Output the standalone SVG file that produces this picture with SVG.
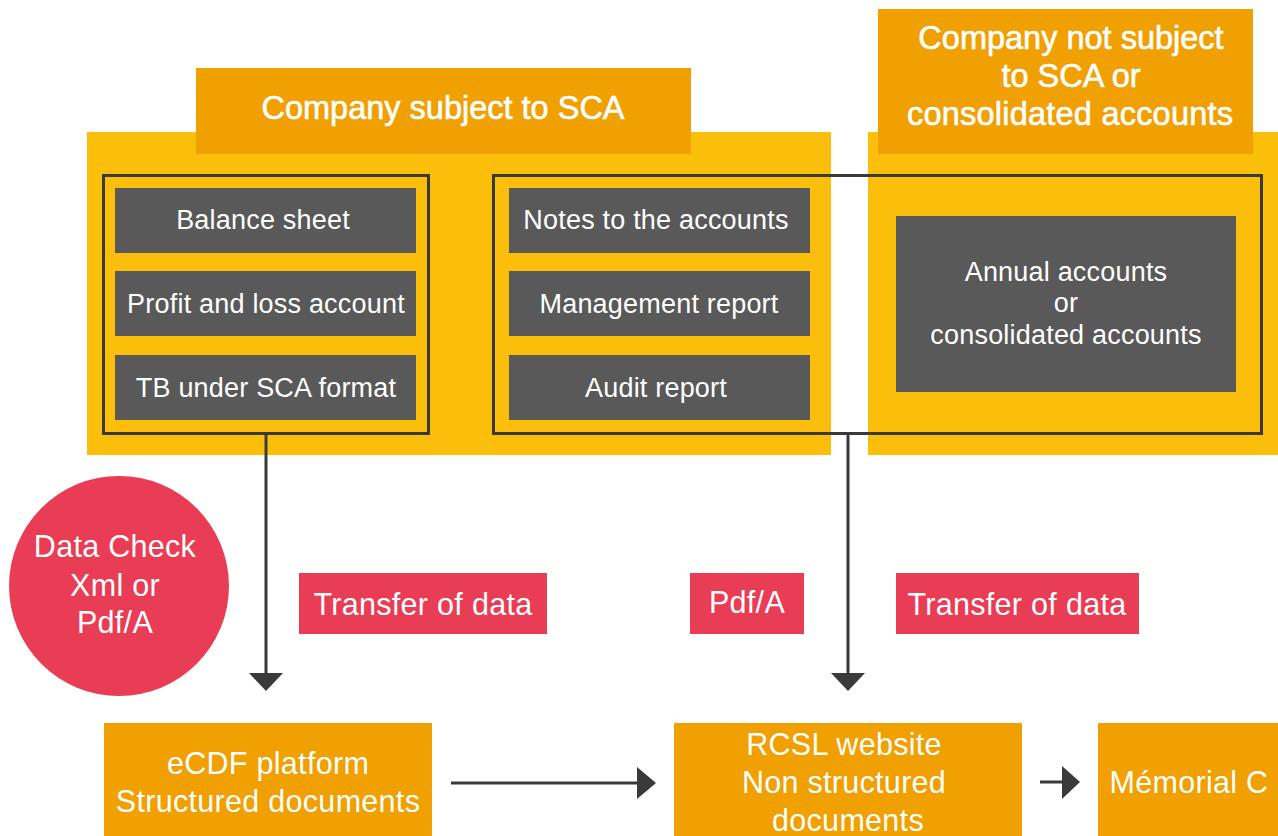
<svg xmlns="http://www.w3.org/2000/svg" width="1278" height="836" viewBox="0 0 1278 836">
<style>
.t{font-family:"Liberation Sans",Arial,sans-serif;fill:#fff;text-anchor:middle}
.yel{fill:#FBBF0B}
.org{fill:#F0A000}
.red{fill:#E83D55}
.dk{fill:#595959}
.ol{fill:none;stroke:#3a3a3a;stroke-width:3}
.hd{font-size:32.5px;stroke:#fff;stroke-width:0.6}
.bx{font-size:27px;letter-spacing:0.2px}
.lg{font-size:30.5px;letter-spacing:0.3px}
.cn{stroke:#3a3a3a;stroke-width:3;fill:none}
.ah{fill:#3a3a3a}
</style>
<rect width="1278" height="836" fill="#fff"/>
<g id="panel-sca">
<rect class="yel" x="87" y="132" width="744" height="323"/>
<rect class="org" x="196" y="68" width="495" height="86"/>
<text class="t hd" x="443" y="119">Company subject to SCA</text>
</g>
<g id="panel-nonsca">
<rect class="yel" x="868" y="132" width="410" height="323"/>
<rect class="org" x="878" y="9" width="375" height="145"/>
<text class="t hd" x="1071" y="49">Company not subject</text>
<text class="t hd" x="1071" y="87">to SCA or</text>
<text class="t hd" x="1070" y="125" textLength="326" lengthAdjust="spacing">consolidated accounts</text>
</g>
<g id="group-structured">
<rect class="ol" x="103.5" y="175.5" width="325" height="258"/>
</g>
<g id="group-unstructured">
<rect class="ol" x="493.5" y="175.5" width="768" height="258"/>
</g>
<g id="balance-sheet">
<rect class="dk" x="115" y="188" width="301" height="65"/>
<text class="t bx" x="263" y="229">Balance sheet</text>
</g>
<g id="profit-loss">
<rect class="dk" x="115" y="271" width="301" height="65"/>
<text class="t bx" x="266" y="313">Profit and loss account</text>
</g>
<g id="tb-sca">
<rect class="dk" x="115" y="355" width="301" height="65"/>
<text class="t bx" x="266" y="397">TB under SCA format</text>
</g>
<g id="notes">
<rect class="dk" x="509" y="188" width="301" height="65"/>
<text class="t bx" x="656" y="229">Notes to the accounts</text>
</g>
<g id="management-report">
<rect class="dk" x="509" y="271" width="301" height="65"/>
<text class="t bx" x="659" y="313">Management report</text>
</g>
<g id="audit-report">
<rect class="dk" x="509" y="355" width="301" height="65"/>
<text class="t bx" x="656" y="397">Audit report</text>
</g>
<g id="annual-accounts">
<rect class="dk" x="896" y="216" width="340" height="176"/>
<text class="t bx" x="1066" y="281">Annual accounts</text>
<text class="t bx" x="1066" y="312">or</text>
<text class="t bx" x="1066" y="344">consolidated accounts</text>
</g>
<g id="data-check">
<circle class="red" cx="119" cy="586" r="110"/>
<text class="t lg" x="115" y="557">Data Check</text>
<text class="t lg" x="115" y="596">Xml or</text>
<text class="t lg" x="115" y="633">Pdf/A</text>
</g>
<g id="label-transfer-1">
<rect class="red" x="299" y="573" width="248" height="61"/>
<text class="t lg" x="423" y="615">Transfer of data</text>
</g>
<g id="label-pdfa">
<rect class="red" x="690" y="573" width="114" height="61"/>
<text class="t lg" x="747" y="613">Pdf/A</text>
</g>
<g id="label-transfer-2">
<rect class="red" x="896" y="573" width="243" height="61"/>
<text class="t lg" x="1017" y="615">Transfer of data</text>
</g>
<g id="ecdf">
<rect class="org" x="104" y="723" width="328" height="113"/>
<text class="t lg" x="268" y="774">eCDF platform</text>
<text class="t lg" x="268" y="812">Structured documents</text>
</g>
<g id="rcsl">
<rect class="org" x="674" y="723" width="348" height="113"/>
<text class="t lg" x="844" y="755">RCSL website</text>
<text class="t lg" x="844" y="793">Non structured</text>
<text class="t lg" x="848" y="831">documents</text>
</g>
<g id="memorial">
<rect class="org" x="1098" y="723" width="180" height="113"/>
<text class="t lg" x="1189" y="793">Mémorial C</text>
</g>
<g id="connectors">
<line class="cn" x1="266" y1="434" x2="266" y2="675"/>
<polygon class="ah" points="249,673 283,673 266,691"/>
<line class="cn" x1="848" y1="434" x2="848" y2="675"/>
<polygon class="ah" points="831,673 865,673 848,691"/>
<line class="cn" x1="451" y1="783" x2="640" y2="783"/>
<polygon class="ah" points="637,767 637,799 656,783"/>
<line class="cn" x1="1040" y1="782" x2="1064" y2="782"/>
<polygon class="ah" points="1062,766 1062,799 1080,782"/>
</g>
</svg>
